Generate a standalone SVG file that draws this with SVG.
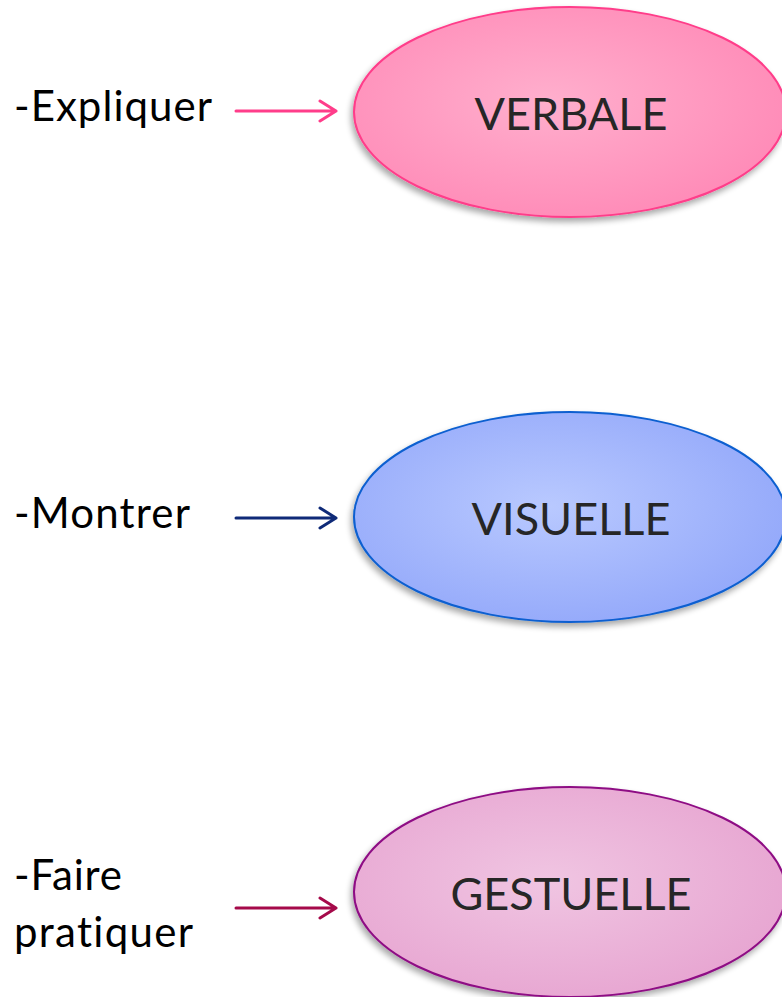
<svg xmlns="http://www.w3.org/2000/svg" width="782" height="997" viewBox="0 0 782 997">
<style>
.lbl{font-family:Lato,"Open Sans","Liberation Sans",sans-serif;font-size:42px;fill:#000;font-variant-ligatures:none}
.nt{font-family:Lato,"Open Sans","Liberation Sans",sans-serif;font-size:45px;fill:#262626;text-anchor:middle}
.ell{stroke-width:2}
.arr{fill:none;stroke-width:3;stroke-linecap:round;stroke-linejoin:round}
</style>
<defs>
<radialGradient id="gPink" cx="0.45" cy="0.45" r="0.6">
<stop offset="0" stop-color="#ffafcd"/><stop offset="1" stop-color="#ff8ab7"/>
</radialGradient>
<radialGradient id="gBlue" cx="0.45" cy="0.45" r="0.6">
<stop offset="0" stop-color="#b9c9ff"/><stop offset="1" stop-color="#93a8fa"/>
</radialGradient>
<radialGradient id="gMauve" cx="0.45" cy="0.45" r="0.6">
<stop offset="0" stop-color="#f0c5e2"/><stop offset="1" stop-color="#e7a5d1"/>
</radialGradient>
<filter id="sh" x="-10%" y="-10%" width="120%" height="130%">
<feGaussianBlur in="SourceAlpha" stdDeviation="3"/>
<feOffset dx="-2" dy="4" result="b"/>
<feComponentTransfer><feFuncA type="linear" slope="0.35"/></feComponentTransfer>
<feMerge><feMergeNode/><feMergeNode in="SourceGraphic"/></feMerge>
</filter>
</defs>
<rect width="782" height="997" fill="#fff"/>
<g id="connectors">
<path class="arr" stroke="#ff3d8a" d="M236 111H336M320 101L336 111L320 121"/>
<path class="arr" stroke="#0f2a78" d="M236 518H336M320 508L336 518L320 528"/>
<path class="arr" stroke="#a50a4a" d="M236 908H336M320 898L336 908L320 918"/>
</g>
<g id="label-expliquer"><text class="lbl" x="14" y="121" textLength="198" lengthAdjust="spacing">-Expliquer</text></g>
<g id="label-montrer"><text class="lbl" x="14" y="528" textLength="176" lengthAdjust="spacing">-Montrer</text></g>
<g id="label-faire"><text class="lbl" x="14" y="890" textLength="108" lengthAdjust="spacing">-Faire</text><text class="lbl" x="14" y="947" textLength="179" lengthAdjust="spacing">pratiquer</text></g>
<g id="node-verbale">
<ellipse class="ell" cx="570" cy="112" rx="216" ry="105" fill="url(#gPink)" stroke="#ff3d8a" filter="url(#sh)"/>
<text class="nt" x="571" y="130">VERBALE</text>
</g>
<g id="node-visuelle">
<ellipse class="ell" cx="570" cy="517" rx="216" ry="105" fill="url(#gBlue)" stroke="#0a5fd0" filter="url(#sh)"/>
<text class="nt" x="571" y="535">VISUELLE</text>
</g>
<g id="node-gestuelle">
<ellipse class="ell" cx="570" cy="892" rx="216" ry="105" fill="url(#gMauve)" stroke="#8e0b84" filter="url(#sh)"/>
<text class="nt" x="571" y="910">GESTUELLE</text>
</g>
</svg>
